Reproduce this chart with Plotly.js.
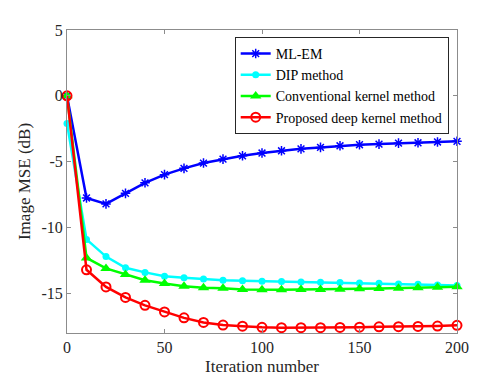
<!DOCTYPE html>
<html>
<head>
<meta charset="utf-8">
<script src="https://cdn.plot.ly/plotly-3.0.1.min.js"></script>
<style>
  body { margin: 0; background: #fff; }
  #chart { width: 499px; height: 379px; }
</style>
</head>
<body>
<div id="chart"></div>
<script>
// Image MSE vs iteration

var iters = [0, 10, 20, 30, 40, 50, 60, 70, 80, 90, 100, 110, 120, 130, 140, 150, 160, 170, 180, 190, 200];

var mlem = [0, -7.75, -8.2, -7.4, -6.6, -5.98, -5.5, -5.1, -4.8, -4.55, -4.34, -4.17, -4.02, -3.91, -3.79, -3.71, -3.66, -3.59, -3.56, -3.5, -3.45];
var dip = [-2.1, -10.9, -12.2, -13.05, -13.4, -13.7, -13.8, -13.9, -14.0, -14.04, -14.07, -14.1, -14.12, -14.15, -14.17, -14.2, -14.22, -14.28, -14.3, -14.35, -14.4];
var convKernel = [0, -12.3, -13.1, -13.56, -13.99, -14.24, -14.45, -14.57, -14.6, -14.7, -14.72, -14.72, -14.7, -14.7, -14.68, -14.65, -14.62, -14.6, -14.57, -14.53, -14.48];
var deepKernel = [0, -13.2, -14.5, -15.3, -15.9, -16.4, -16.85, -17.2, -17.4, -17.48, -17.57, -17.6, -17.6, -17.6, -17.58, -17.56, -17.53, -17.52, -17.5, -17.47, -17.42];

var xTicks = [0, 50, 100, 150, 200];
var yTicks = [-15, -10, -5, 0, 5];
var yTickLabels = ['-15', '-10', '-5', '0', '5'];

var serif = 'Liberation Serif, Times New Roman, serif';

var traceMlem = {
    x: iters,
    y: mlem,
    type: 'scatter',
    mode: 'lines+markers',
    name: 'ML-EM',
    cliponaxis: false,
    line: { color: 'rgb(0,0,255)', width: 2.5 },
    marker: { symbol: 'asterisk-open', size: 8, color: 'rgb(0,0,255)', line: { color: 'rgb(0,0,255)', width: 1.5 } }
};

var traceDip = {
    x: iters,
    y: dip,
    type: 'scatter',
    mode: 'lines+markers',
    name: 'DIP method',
    cliponaxis: false,
    line: { color: 'rgb(0,255,255)', width: 2.5 },
    marker: { symbol: 'circle', size: 7, color: 'rgb(0,255,255)' }
};

var traceConv = {
    x: iters,
    y: convKernel,
    type: 'scatter',
    mode: 'lines+markers',
    name: 'Conventional kernel method',
    cliponaxis: false,
    line: { color: 'rgb(0,255,0)', width: 2.5 },
    marker: { symbol: 'triangle-up', size: 10, color: 'rgb(0,255,0)' }
};

var traceDeep = {
    x: iters,
    y: deepKernel,
    type: 'scatter',
    mode: 'lines+markers',
    name: 'Proposed deep kernel method',
    cliponaxis: false,
    line: { color: 'rgb(255,0,0)', width: 2.5 },
    marker: { symbol: 'circle-open', size: 9, color: 'rgb(255,0,0)', line: { color: 'rgb(255,0,0)', width: 2 } }
};

var data = [traceMlem, traceDip, traceConv, traceDeep];

var axisCommon = {
    showgrid: false,
    zeroline: false,
    showline: true,
    mirror: 'ticks',
    linecolor: '#8c8c8c',
    linewidth: 1,
    ticks: 'inside',
    ticklen: 4,
    tickcolor: '#8c8c8c',
    tickfont: { family: serif, size: 16, color: '#262626' }
};

var layout = {
    width: 499,
    height: 379,
    margin: { l: 67, r: 42, t: 30, b: 46 },
    paper_bgcolor: '#fff',
    plot_bgcolor: '#fff',
    showlegend: true,
    xaxis: Object.assign({}, axisCommon, {
        range: [0, 200],
        tickvals: xTicks,
        title: { text: 'Iteration number', standoff: 4, font: { family: serif, size: 17, color: '#262626' } }
    }),
    yaxis: Object.assign({}, axisCommon, {
        range: [-18, 5],
        tickvals: yTicks,
        ticktext: yTickLabels,
        title: { text: 'Image MSE (dB)', standoff: 6, font: { family: serif, size: 17, color: '#262626' } }
    }),
    legend: {
        x: 0.43,
        y: 0.977,
        xanchor: 'left',
        yanchor: 'top',
        bgcolor: '#fff',
        bordercolor: '#262626',
        borderwidth: 1,
        tracegroupgap: 0,
        itemwidth: 30,
        font: { family: serif, size: 14, color: '#000' }
    }
};

Plotly.newPlot('chart', data, layout, { displayModeBar: false, staticPlot: true });
</script>
</body>
</html>
